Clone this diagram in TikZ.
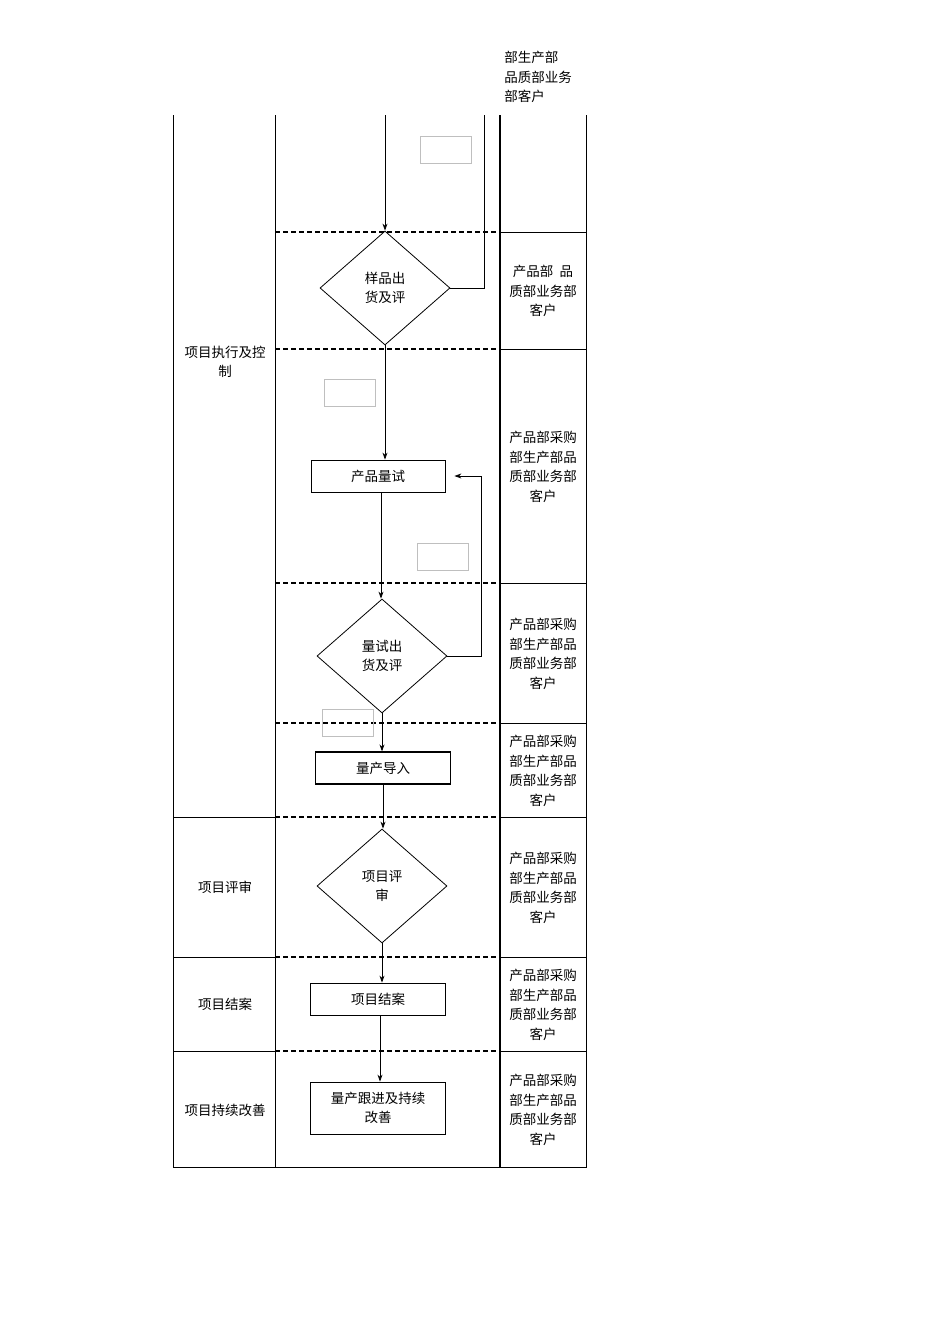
\documentclass[tikz,border=0pt]{standalone}
\usepackage{fontspec}
\newfontfamily\cjk{Noto Sans CJK SC}
\usetikzlibrary{shapes.geometric,arrows.meta}
\begin{document}
\begin{tikzpicture}[x=1pt,y=-1pt,
  every node/.style={font=\cjk\fontsize{13.5}{19.5}\selectfont},
  lab/.style={align=center,inner sep=0},
  box/.style={draw,minimum height=32pt,align=center,inner sep=0},
  dia/.style={draw,diamond,minimum width=130pt,minimum height=114pt,inner sep=0,align=center},
  ghost/.style={draw=gray!50,minimum width=51pt,minimum height=27pt,inner sep=0},
  arr/.style={-{Stealth[length=7pt,width=5pt]},thick},
  dsh/.style={dashed,line width=1.6pt,dash pattern=on 5pt off 3pt},
  line width=0.8pt]
\useasboundingbox (0,0) rectangle (950,1344);
% table frame
\draw (173,115) -- (173,1167) -- (586,1167) -- (586,115);
\draw (275,115) -- (275,1167);
\draw[line width=1.6pt] (500,115) -- (500,1167);
\foreach \y in {817,957,1051} \draw (173,\y) -- (275,\y);
\foreach \y in {232,349,583,723,817,957,1051} {\draw[dsh] (275,\y) -- (500,\y); \draw (500,\y) -- (586,\y);}
% right column texts
\node[lab,anchor=north west,align=left] (rt0) at (504,51) {部生产部\\品质部业务\\部客户};
\node[lab] (r1) at (543,291) {产品部\ \ 品\\质部业务部\\客户};
\foreach \n/\y in {r2/467,r3/654,r4/771,r5/888,r6/1005,r7/1110}
  \node[lab] (\n) at (543,\y) {产品部采购\\部生产部品\\质部业务部\\客户};
% left labels
\node[lab] (l1) at (225,362) {项目执行及控\\制};
\node[lab] (l2) at (225,887) {项目评审};
\node[lab] (l3) at (225,1004) {项目结案};
\node[lab] (l4) at (225,1110) {项目持续改善};
% ghosts
\node[ghost] (g1) at (446,150) {};
\node[ghost] (g2) at (350,393) {};
\node[ghost] (g3) at (443,557) {};
\node[ghost] (g4) at (348,723) {};
% shapes
\node[dia] (d1) at (385,288) {样品出\\货及评};
\node[box,minimum width=134pt] (b1) at (378,476) {产品量试};
\node[dia] (d2) at (382,656) {量试出\\货及评};
\node[box,minimum width=135pt,line width=1.2pt] (b2) at (383,768) {量产导入};
\node[dia] (d3) at (382,886) {项目评\\审};
\node[box,minimum width=135pt] (b3) at (378,999) {项目结案};
\node[box,minimum width=135pt,minimum height=52pt] (b4) at (378,1108) {量产跟进及持续\\改善};
% connectors
\coordinate (t1) at (385,115);
\coordinate (t2) at (484,115);
\draw[arr] (t1) -- (d1.north);
\draw (t2) |- (d1.east);
\draw[arr] (d1.south) -- (b1.north -| d1.south);
\draw[arr] (381,492) -- (d2.north -| 381,0);
\draw[arr] (d2.east) -- (481,656) |- ([xshift=9pt]b1.east);
\draw[arr] (d2.south) -- (b2.north -| d2.south);
\draw[arr] (b2.south) -- (d3.north -| b2.south);
\draw[arr] (d3.south) -- (b3.north -| d3.south);
\draw[arr] (380,1016) -- (b4.north -| 380,0);
\end{tikzpicture}
\end{document}
